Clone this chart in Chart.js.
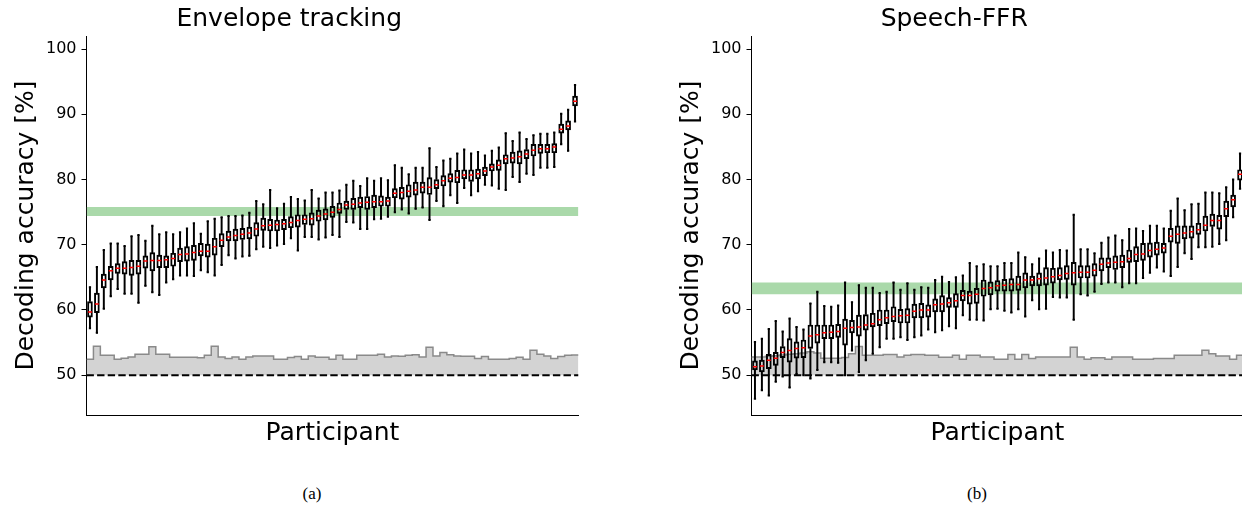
<!DOCTYPE html>
<html>
<head>
<meta charset="utf-8">
<script src="https://cdn.jsdelivr.net/npm/chart.js@4.4.1/dist/chart.umd.min.js"></script>
<style>
html, body { margin: 0; padding: 0; background: #fff; overflow: hidden; }
#wrap { position: relative; width: 1242px; height: 508px; overflow: hidden; }
canvas { position: absolute; top: 0; }
#envChart { left: 0; }
#ffrChart { left: 665px; }
.cap { position: absolute; top: 485px; font-family: "Liberation Serif", serif; font-size: 17px; line-height: 17px; transform: translateX(-50%); color: #000; }
</style>
</head>
<body>
<div id="wrap">
  <canvas id="envChart" width="665" height="470" style="width:665px;height:470px"></canvas>
  <canvas id="ffrChart" width="665" height="470" style="width:665px;height:470px"></canvas>
  <div class="cap" style="left:312px">(a)</div>
  <div class="cap" style="left:977px">(b)</div>
</div>
<script>
// participants 1..71 (sorted by median accuracy)
const participants = Array.from({ length: 71 }, (_, i) => i + 1);
const yTicks = [50, 60, 70, 80, 90, 100];

// Envelope tracking: whisker low, Q1, median, Q3, whisker high
const envWlo = [57.2,56.5,60.2,62.1,63.2,62.5,62.5,61.1,63.7,62.7,62.3,64.2,64.7,65.3,65.3,65.2,66.1,65.8,65.3,66.9,68.4,67.9,68.2,68.3,69.3,69.7,69.5,69.9,70.1,71.0,69.1,71.2,71.2,70.8,71.1,71.5,71.2,73.5,73.4,72.4,72.4,73.9,74.0,74.3,75.0,75.4,74.8,75.5,75.7,73.8,76.7,75.9,77.6,76.4,78.7,77.6,78.2,79.2,79.1,78.6,78.4,80.4,79.6,80.9,80.7,81.8,81.8,81.9,85.4,84.4,88.9];
const envQ1 = [58.9,59.6,63.4,64.6,65.6,65.5,65.3,65.5,66.4,66.0,66.5,66.5,66.7,67.4,67.5,67.6,68.3,68.1,68.4,69.7,70.6,70.6,70.8,70.9,71.3,72.2,72.1,72.1,72.3,72.6,72.7,73.1,73.0,73.6,73.8,74.2,74.8,75.4,75.4,75.7,75.4,75.7,75.9,75.9,77.2,77.0,77.3,77.6,77.9,77.7,78.6,79.0,79.6,79.5,80.1,79.7,80.1,80.6,81.3,81.4,82.4,82.5,82.4,83.2,83.6,84.0,84.1,84.1,87.1,87.6,91.3];
const envMed = [59.7,60.9,64.6,66.0,66.4,66.4,66.5,66.7,67.5,67.6,67.6,67.7,67.9,68.5,68.6,68.8,69.0,69.0,69.7,70.7,71.2,71.4,71.6,71.8,72.4,72.9,73.0,73.1,73.2,73.4,73.7,73.9,74.0,74.4,74.7,75.0,75.4,76.1,76.2,76.4,76.5,76.6,76.6,76.7,77.9,78.0,78.2,78.4,78.8,78.8,79.2,79.8,80.2,80.3,80.7,80.7,80.9,81.3,81.9,82.2,83.2,83.3,83.5,83.9,84.5,84.7,84.7,85.0,87.7,88.2,92.0];
const envQ3 = [61.3,62.6,65.5,66.7,67.1,67.4,67.6,67.6,68.3,68.8,68.4,68.3,68.7,69.5,69.7,69.9,70.2,70.1,71.0,71.7,72.1,72.4,72.5,72.7,73.4,74.1,73.9,73.8,73.9,74.3,74.6,74.6,74.9,75.3,75.5,75.9,76.4,76.7,77.1,77.3,77.4,77.6,77.5,77.3,78.6,78.8,79.2,79.6,79.6,80.3,80.0,80.6,80.9,81.4,81.5,81.5,81.6,81.9,82.4,83.0,83.8,84.2,84.4,84.6,85.4,85.4,85.4,85.5,88.5,89.0,92.8];
const envWhi = [63.5,66.6,69.2,70.2,70.2,69.8,71.3,71.5,70.6,72.9,71.6,71.9,71.6,71.9,72.5,73.3,71.7,73.6,74.0,74.2,74.4,74.4,74.5,74.9,76.7,76.2,78.4,75.6,76.3,77.3,77.0,76.8,78.4,77.1,78.0,78.0,78.3,79.2,79.8,79.0,80.2,79.8,80.2,79.9,82.2,81.8,80.8,81.8,81.8,84.8,81.9,82.9,83.2,84.0,84.6,84.0,84.2,83.7,84.4,84.9,87.1,85.9,87.2,86.2,86.8,87.0,87.0,87.2,90.1,90.7,94.5];
const envChance = [52.45,54.45,53.07,53.07,52.45,52.6,52.8,53.2,53.2,54.35,53.2,53.2,52.75,52.75,52.75,52.75,52.66,53.07,54.45,52.8,52.55,52.8,52.45,52.8,52.96,52.96,52.96,52.45,52.45,52.7,52.86,52.45,52.96,52.75,52.75,52.45,53.07,52.45,52.45,53.07,53.07,53.07,53.2,52.8,52.96,52.9,53.07,53.15,52.8,54.29,52.96,53.48,53.15,52.96,52.9,52.9,52.55,52.86,52.45,52.45,52.45,52.55,52.75,52.45,53.83,53.2,52.96,52.55,52.86,53.07,53.1];
const envBand = [74.4, 75.8];

// Speech-FFR
const ffrWlo = [46.4,47.7,46.9,49.0,49.8,48.1,50.2,50.0,49.5,50.8,52.0,52.0,51.9,50.0,53.8,50.5,52.3,53.3,54.3,55.6,55.6,55.8,55.4,55.8,56.1,57.0,56.6,56.9,57.5,57.2,59.2,58.5,58.5,58.4,60.1,60.2,59.9,59.6,60.1,59.0,61.5,60.1,60.2,62.0,61.9,61.9,58.5,62.4,62.2,62.8,64.0,64.2,64.2,63.5,64.1,64.1,64.9,65.7,66.5,65.9,65.2,66.6,68.7,67.8,69.6,69.6,69.7,70.1,70.7,74.2,78.6];
const ffrQ1 = [50.8,50.5,51.0,51.5,52.7,52.0,52.6,52.7,54.1,54.9,55.6,55.6,55.8,54.6,56.5,56.0,56.9,57.4,57.6,57.9,58.2,58.0,58.0,58.8,58.8,58.9,59.7,59.7,60.4,60.4,61.4,60.9,61.0,62.1,62.3,62.9,62.9,62.9,63.0,63.4,63.7,63.7,63.8,64.1,64.6,64.7,63.8,64.9,64.9,65.2,66.0,66.5,66.2,66.5,67.3,67.4,67.6,68.1,68.4,68.7,70.4,70.2,70.9,71.0,71.6,72.1,72.8,72.4,74.3,75.8,79.9];
const ffrMed = [51.3,51.4,52.3,52.6,53.5,53.8,54.1,54.2,56.0,56.2,56.5,56.6,56.7,57.2,57.3,57.4,57.7,57.9,58.5,58.8,59.0,59.1,59.2,59.8,60.0,60.0,60.8,60.9,61.1,61.4,62.2,62.2,62.4,63.3,63.4,63.7,63.8,63.9,63.9,64.6,64.6,64.8,64.9,65.1,65.3,65.6,65.7,65.8,65.8,66.1,67.0,67.2,67.3,67.4,67.9,68.5,68.6,69.1,69.3,69.5,71.3,71.6,71.8,72.0,72.3,73.0,73.7,73.7,75.5,76.9,80.8];
const ffrQ3 = [52.2,52.3,53.2,53.5,54.4,55.6,55.1,55.4,57.7,57.7,57.7,57.7,57.8,58.6,58.4,59.2,59.3,59.5,60.0,60.0,60.5,60.1,60.2,60.9,61.0,60.8,61.7,62.2,61.9,62.5,63.0,62.9,63.3,64.6,64.3,64.5,64.7,64.8,65.2,65.7,65.2,65.7,66.5,66.4,66.5,66.8,67.3,66.8,66.8,67.1,68.0,68.0,68.3,68.4,69.2,69.7,70.2,70.3,70.4,70.2,72.5,72.9,72.9,72.9,73.3,74.4,74.7,74.5,76.7,77.6,81.5];
const ffrWhi = [55.1,55.6,57.1,58.3,56.7,58.7,57.4,57.0,61.0,62.8,60.6,60.5,60.7,64.2,61.2,63.8,63.4,63.4,62.6,62.8,64.2,63.1,64.1,63.1,63.5,63.4,64.6,65.1,64.3,65.0,65.3,67.2,66.7,67.0,66.7,66.7,67.2,67.2,68.8,68.1,67.0,67.9,69.1,68.8,69.2,69.1,74.6,69.3,69.3,68.7,70.3,71.1,71.4,70.7,72.4,72.5,72.1,72.9,72.9,72.5,75.2,77.1,75.3,76.2,76.3,78.0,78.0,77.9,78.8,80.0,84.0];
const ffrChance = [52.8,52.8,52.9,53.0,53.1,53.2,53.3,53.4,53.6,53.4,52.6,52.6,52.6,52.7,53.3,54.4,53.07,53.07,53.07,53.17,53.17,52.8,53.07,53.17,53.17,53.07,53.07,52.75,52.75,53.07,52.45,53.07,53.07,52.8,52.8,52.45,52.45,53.17,52.45,53.17,52.55,52.8,52.8,52.8,52.8,52.8,54.29,52.8,52.45,52.66,52.66,52.45,52.8,52.8,52.8,52.45,52.45,52.45,52.55,52.55,52.55,53.07,53.07,53.07,53.07,53.83,53.3,52.96,52.96,52.45,53.07];
const ffrBand = [62.4, 64.2];

Chart.defaults.font.family = "'DejaVu Sans'";
Chart.defaults.color = '#000';

function boxChart(id, title, wlo, q1, med, q3, whi, chance, band) {
  const xMin = 0.5, xMax = participants.length + 0.5;
  const pts = arr => participants.map((p, i) => ({ x: p, y: arr[i] }));
  const ranges = (lo, hi) => participants.map((p, i) => ({ x: p, y: [lo[i], hi[i]] }));
  // each participant's level spans [p - 0.5, p + 0.5]
  const steps = participants.map((p, i) => ({ x: p - 0.5, y: chance[i] }));
  steps.push({ x: xMax, y: chance[chance.length - 1] });

  return new Chart(document.getElementById(id), {
    data: {
      datasets: [
        // medians
        { type: 'scatter', data: pts(med), pointStyle: 'line', pointRadius: 2, pointBorderColor: 'red', borderColor: 'red', pointBorderWidth: 1.5, order: 0 },
        // boxes
        { type: 'bar', data: ranges(q1, q3), backgroundColor: 'rgba(0,0,0,0)', borderColor: '#000', borderWidth: 1.3, borderSkipped: false, barThickness: 5, grouped: false, order: 1 },
        // caps
        { type: 'scatter', data: pts(wlo).concat(pts(whi)), pointStyle: 'line', pointRadius: 1.1, pointBorderColor: '#000', borderColor: '#000', pointBorderWidth: 2, order: 2 },
        // whiskers
        { type: 'bar', data: ranges(wlo, q1).concat(ranges(q3, whi)), backgroundColor: '#000', borderWidth: 0, barThickness: 1.3, grouped: false, order: 3 },
        // threshold band
        { type: 'line', data: [{ x: xMin, y: band[1] }, { x: xMax, y: band[1] }], borderColor: 'rgba(0,0,0,0)', pointRadius: 0, fill: { value: band[0] }, backgroundColor: '#aad9aa', order: 5 },
        // chance line
        { type: 'line', data: [{ x: xMin, y: 50 }, { x: xMax, y: 50 }], borderColor: '#000', borderWidth: 2, borderDash: [7.4, 3.2], pointRadius: 0, order: 4 },
        // permutation level
        { type: 'line', data: steps, stepped: 'before', borderColor: '#8a8a8a', borderWidth: 1.5, pointRadius: 0, fill: { value: 50 }, backgroundColor: '#d3d3d3', order: 7 }
      ]
    },
    options: {
      responsive: false,
      animation: false,
      devicePixelRatio: 1,
      events: [],
      layout: { padding: { left: 0, right: 86.5, top: 0, bottom: 0 } },
      plugins: {
        legend: { display: false },
        tooltip: { enabled: false },
        title: { display: true, text: title, color: '#000', font: { size: 25, weight: 'normal' }, padding: { top: 4, bottom: 2 } }
      },
      scales: {
        x: {
          type: 'linear', min: xMin, max: xMax, offset: false,
          ticks: { display: false },
          grid: { display: false, drawTicks: false },
          border: { display: true, color: '#000', width: 1 },
          title: { display: true, text: 'Participant', color: '#000', font: { size: 25 }, padding: { top: 0, bottom: 22 } },
          afterFit: s => { s.height = 55; }
        },
        y: {
          type: 'linear', min: 43.9, max: 102,
          afterBuildTicks: s => { s.ticks = yTicks.map(v => ({ value: v })); },
          ticks: { color: '#000', font: { size: 16 }, padding: 5 },
          grid: { drawOnChartArea: false, drawTicks: true, tickLength: 5, color: '#000', tickColor: '#000', lineWidth: 1 },
          border: { display: true, color: '#000', width: 1 },
          title: { display: true, text: 'Decoding accuracy [%]', color: '#000', font: { size: 25 }, padding: { top: 11, bottom: 0 } },
          afterFit: s => { s.width = 86.5; }
        }
      }
    }
  });
}

boxChart('envChart', 'Envelope tracking', envWlo, envQ1, envMed, envQ3, envWhi, envChance, envBand);
boxChart('ffrChart', 'Speech-FFR', ffrWlo, ffrQ1, ffrMed, ffrQ3, ffrWhi, ffrChance, ffrBand);
</script>
</body>
</html>
